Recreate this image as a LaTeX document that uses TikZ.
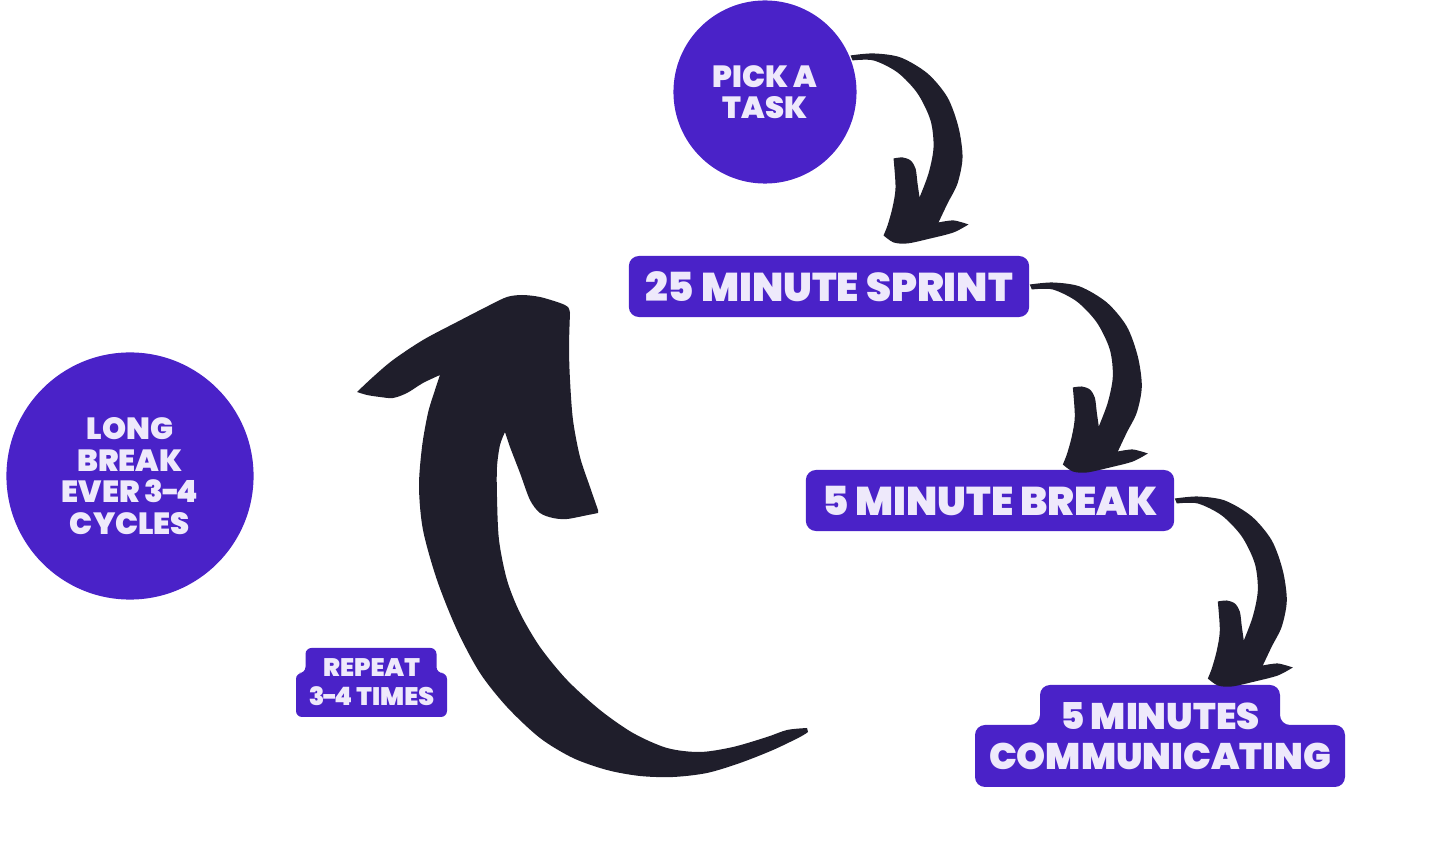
\documentclass[tikz,border=0pt]{standalone}
\usepackage{fontspec}
\setmainfont{Poppins}[BoldFont={Poppins Black}]
\usepackage{xcolor}
\usetikzlibrary{positioning,backgrounds}
\definecolor{grape}{HTML}{4A22C8}
\definecolor{lilac}{HTML}{EEE9FB}
\definecolor{ink}{HTML}{1F1E2B}
\newcommand{\dash}{\kern-0.4pt-\kern-0.9pt}

\begin{document}
\begin{tikzpicture}[
  x=0.01cm, y=-0.01cm,
  stepbox/.style={fill=grape, rounded corners=0.1cm, text=lilac, align=center, inner sep=0pt, minimum height=0.61cm, font=\bfseries\fontsize{11.4}{11.4}\selectfont},
  bubble/.style={circle, fill=grape, text=lilac, align=center, inner sep=0pt, font=\bfseries\fontsize{8.7}{9}\selectfont},
  tag/.style={text=lilac, align=center, inner sep=0pt},
  curl/.pic={
    \fill[ink] plot[smooth] coordinates {(0,-2) (23,-4) (50,0) (77,16) (97,40) (108,70) (112,100) (107,126) (97,146) (88,165)}
      -- plot[smooth] coordinates {(88,165) (103,163) (118,167)}
      -- plot[smooth] coordinates {(118,167) (103,175) (80,181) (57,186) (43,185) (33,178)}
      -- plot[smooth] coordinates {(33,178) (37,168) (42,150) (45,130) (43,101)}
      -- plot[smooth] coordinates {(43,101) (52,100) (60,103) (65,111) (67,126) (69,140)}
      -- plot[smooth] coordinates {(69,140) (78,116) (83,90) (80,63) (67,36) (47,15) (23,3) (2,3)} -- cycle;
  },
]
\useasboundingbox (0,0) rectangle (1456,846);
% etapas del ciclo
\node[bubble, minimum size=1.83cm] (task) at (765,92) {PICK A\\TASK};
\node[stepbox, minimum width=4cm] (sprint) at (829,286.5) {25 MINUTE SPRINT};
\node[stepbox, minimum width=3.68cm] (brk) at (990,500.5) {5 MINUTE BREAK};
\node[tag, font=\bfseries\fontsize{10.5}{11.3}\selectfont] (comm) at (1160,736) {5 MINUTES\\COMMUNICATING};
\begin{scope}[on background layer]
\fill[grape, rounded corners=0.1cm, shift={(comm.center)}] (-120,-11) -- (-120,-51) -- (120,-51) -- (120,-11) -- (185,-11) -- (185,51) -- (-185,51) -- (-185,-11) -- cycle;
\end{scope}
% descanso largo y repeticiones
\node[bubble, minimum size=2.47cm] (long) at (130,476) {LONG\\BREAK\\EVER 3\dash4\\CYCLES};
\node[tag, font=\bfseries\fontsize{7.2}{8.2}\selectfont] (rep) at (371.5,682.5) {REPEAT\\3\dash4 TIMES};
\begin{scope}[on background layer]
\fill[grape, rounded corners=0.06cm, shift={(rep.center)}] (-66,-9.5) -- (-66,-34.5) -- (65,-34.5) -- (65,-9.5) -- (75.5,-9.5) -- (75.5,34.5) -- (-75.5,34.5) -- (-75.5,-9.5) -- cycle;
\end{scope}
% flechas
\pic at (task.22) {curl};
\pic at (sprint.east) {curl};
\pic at (brk.east) {curl};
\fill[ink] plot[smooth] coordinates {(357,392) (373,377) (393,360) (423,340) (457,322) (490,305) (507,297) (522,295) (540,297) (560,303) (568,307) (570,313)}
  -- plot[smooth] coordinates {(570,313) (569,347) (570,380) (573,420) (580,457) (590,487) (598,510)}
  -- plot[smooth] coordinates {(598,513) (588,515) (567,519) (553,518) (540,513) (530,500) (520,473) (510,447) (505,432)}
  -- plot[smooth] coordinates {(505,432) (500,445) (497,467) (497,497) (499,540) (507,580) (520,613) (540,647) (567,680) (600,710) (633,733) (667,748) (700,752) (733,747) (767,737) (787,730) (807,728)}
  -- plot[smooth] coordinates {(808,732) (800,737) (773,750) (740,763) (707,773) (673,777) (640,776) (607,770) (573,758) (540,738) (507,707) (480,673) (457,630) (437,580) (423,530) (419,487) (422,447) (428,413) (435,390) (440,375)}
  -- plot[smooth] coordinates {(440,375) (423,383) (407,393) (393,398) (380,397) (367,395) (357,392)} -- cycle;
\end{tikzpicture}
\end{document}
